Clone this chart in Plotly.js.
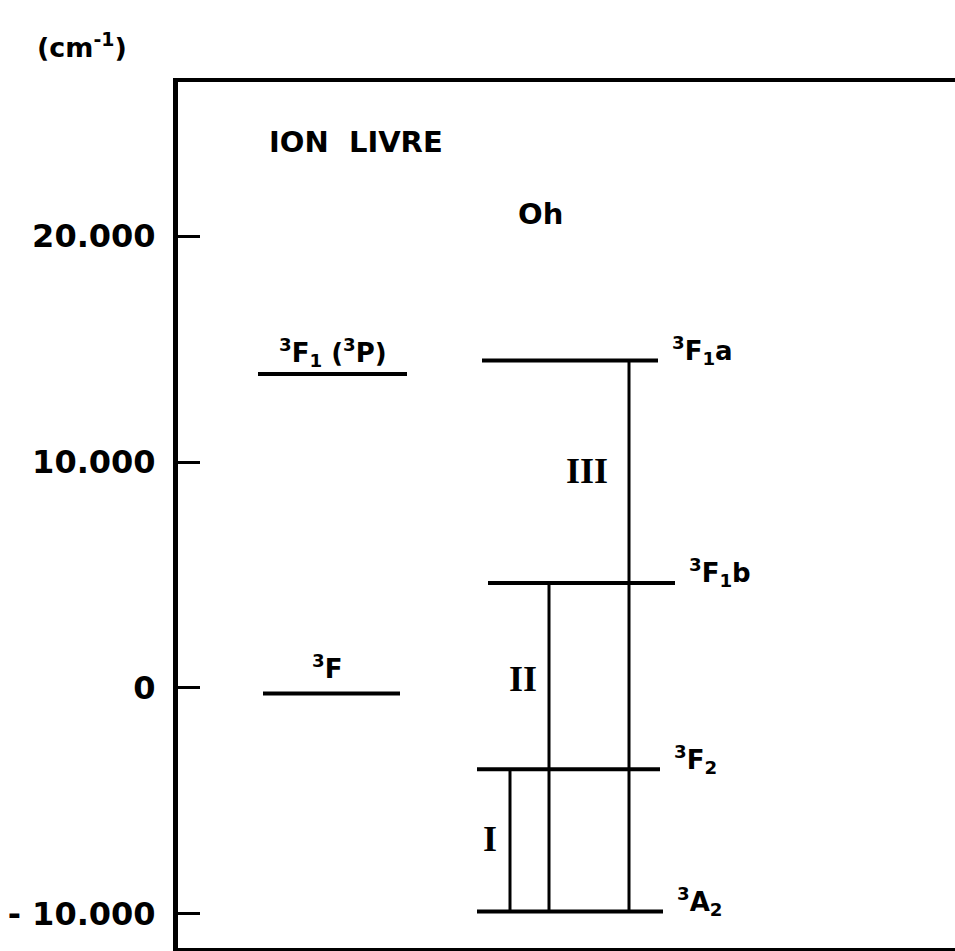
<!DOCTYPE html>
<html>
<head>
<meta charset="utf-8">
<script src="https://cdn.plot.ly/plotly-3.0.1.min.js"></script>
<style>html,body{margin:0;padding:0;background:#fff;}#chart{width:955px;height:951px;}</style>
</head>
<body>
<div id="chart"></div>
<script>
// ---- data ----
const ionLabels = ["<sup>3</sup>F<sub>1</sub> (<sup>3</sup>P)", "<sup>3</sup>F"];
const ionEnergies = [13900, -250];
const ohLabels = ["<sup>3</sup>F<sub>1</sub>a", "<sup>3</sup>F<sub>1</sub>b", "<sup>3</sup>F<sub>2</sub>", "<sup>3</sup>A<sub>2</sub>"];
const ohEnergies = [14500, 4650, -3600, -9900];
const transLabels = ["I", "II", "III"];
const transFrom = [-9900, -9900, -9900];
const transTo = [-3600, 4650, 14500];
const tickVals = [-10000, 0, 10000, 20000];
const tickText = ["- 10.000", "0", "10.000", "20.000"];

// ---- layout helpers (positions) ----
const ionX = [[258, 407], [263, 400]];
const ohX = [[482, 658], [488, 675], [477, 660], [477, 663]];
const transX = [510, 549, 629];
const transLabelX = [490, 523, 587];
const transLabelY = [-6700, 400, 9600];

const traces = [];
ionEnergies.forEach((e, i) => traces.push({
  x: ionX[i], y: [e, e], mode: 'lines', line: {color: '#000', width: 4}, hoverinfo: 'skip'
}));
ohEnergies.forEach((e, i) => traces.push({
  x: ohX[i], y: [e, e], mode: 'lines', line: {color: '#000', width: 4}, hoverinfo: 'skip'
}));
transFrom.forEach((f, i) => traces.push({
  x: [transX[i], transX[i]], y: [f, transTo[i]], mode: 'lines', line: {color: '#000', width: 3}, hoverinfo: 'skip'
}));

const FAM = 'DejaVu Sans, Liberation Sans, sans-serif';
const bold = {family: FAM, size: 26, color: '#000', weight: 'bold'};
const annotations = [];
ohLabels.forEach((t, i) => annotations.push({
  x: ohX[i][1] + 12, y: ohEnergies[i], xref: 'x', yref: 'y', text: t, showarrow: false,
  xanchor: 'left', yanchor: 'middle', yshift: 10, font: bold
}));
annotations.push({x: (ionX[0][0] + ionX[0][1]) / 2, y: ionEnergies[0], xref: 'x', yref: 'y', text: ionLabels[0],
  showarrow: false, xanchor: 'center', yanchor: 'bottom', yshift: 1, font: bold});
annotations.push({x: 327, y: ionEnergies[1], xref: 'x', yref: 'y', text: ionLabels[1],
  showarrow: false, xanchor: 'center', yanchor: 'bottom', yshift: 8, font: bold});
transLabels.forEach((t, i) => annotations.push({
  x: transLabelX[i], y: transLabelY[i], xref: 'x', yref: 'y', text: t, showarrow: false,
  xanchor: 'center', yanchor: 'middle',
  font: {family: 'Liberation Serif, Times New Roman, serif', size: 36, color: '#000', weight: 'bold'}
}));
annotations.push({x: 356, y: 24180, xref: 'x', yref: 'y', text: 'ION  LIVRE', showarrow: false,
  xanchor: 'center', yanchor: 'middle', font: {family: FAM, size: 29, color: '#000', weight: 'bold'}});
annotations.push({x: 540, y: 20990, xref: 'x', yref: 'y', text: 'Oh', showarrow: false,
  xanchor: 'center', yanchor: 'middle', font: {family: FAM, size: 29, color: '#000', weight: 'bold'}});
annotations.push({x: (82 - 178) / 777, y: (948 - 46) / 866, xref: 'paper', yref: 'paper', text: '(cm<sup>-1</sup>)', showarrow: false,
  xanchor: 'center', yanchor: 'middle', font: {family: FAM, size: 27, color: '#000', weight: 'bold'}});

const layout = {
  width: 955, height: 951,
  margin: {l: 178, r: 0, t: 82, b: 3},
  paper_bgcolor: '#fff', plot_bgcolor: '#fff',
  showlegend: false,
  xaxis: {range: [178, 955], showgrid: false, zeroline: false, showticklabels: false, ticks: '',
    showline: true, linecolor: '#000', linewidth: 4, mirror: true},
  yaxis: {range: [-11519, 26833], showgrid: false, zeroline: false,
    tickmode: 'array', tickvals: tickVals, ticktext: tickText, ticks: 'inside', ticklen: 22, tickwidth: 3, tickcolor: '#000',
    ticklabelstandoff: 11,
    tickfont: {family: FAM, size: 32, color: '#000', weight: 'bold'},
    showline: true, linecolor: '#000', linewidth: 5},
  annotations: annotations
};
Plotly.newPlot('chart', traces, layout, {staticPlot: true, displayModeBar: false});
</script>
</body>
</html>
